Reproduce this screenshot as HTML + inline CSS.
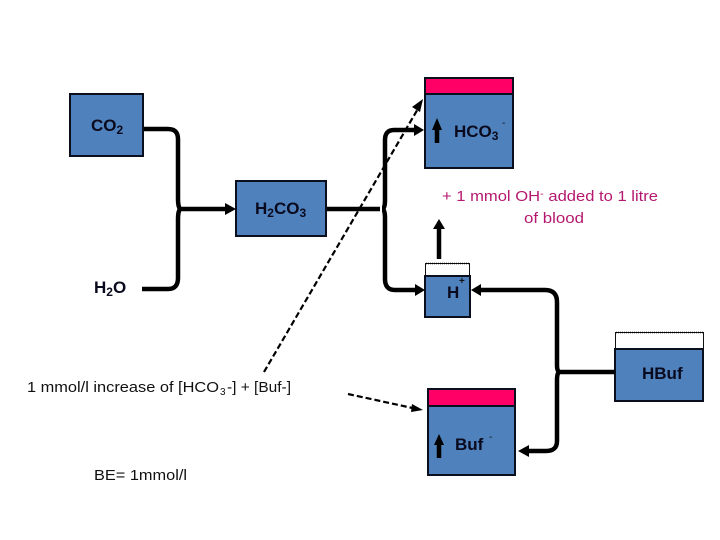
<!DOCTYPE html>
<html>
<head>
<meta charset="utf-8">
<style>
html,body{margin:0;padding:0;background:#fff}
svg{display:block}
.b{font-family:"Liberation Sans",sans-serif;font-weight:bold;font-size:17px;fill:#0a0a1e}
.c{font-family:"Liberation Sans",sans-serif;font-size:15px;fill:#111}
.m{font-family:"Liberation Sans",sans-serif;font-size:15px;fill:#b5186e}
.s{font-size:12px}
</style>
</head>
<body>
<svg width="720" height="540" viewBox="0 0 720 540" xmlns="http://www.w3.org/2000/svg">
<rect width="720" height="540" fill="#fff"/>
<g fill="#4f81bd" stroke="#0a0f1e" stroke-width="2">
<rect x="70" y="94" width="73" height="62"/>
<rect x="236" y="181" width="90" height="55"/>
<rect x="425" y="94" width="88" height="74"/>
<rect x="425" y="276" width="45" height="41"/>
<rect x="615" y="349" width="88" height="52"/>
<rect x="428" y="406" width="87" height="69"/>
</g>
<g fill="#ff0066" stroke="#0a0f1e" stroke-width="2">
<rect x="425" y="78" width="88" height="16"/>
<rect x="428" y="389" width="87" height="17"/>
</g>
<g fill="none" stroke="#111" stroke-width="1">
<path d="M425.500 276V263.500H469.500V276"/>
<path d="M615.500 349V332.500H703.500V349"/>
</g>
<g fill="none" stroke="#000" stroke-width="1.500" stroke-dasharray="1 1">
<path d="M426 263.500H470"/><path d="M616 332.500H703"/>
</g>
<g fill="none" stroke="#000" stroke-width="4.500">
<path d="M144 129H168Q178 129 178 139V198Q178 209 181 209Q178 209 178 220V278Q178 289 168 289H142"/>
<path d="M181 209H226"/>
<path d="M327 209H380"/>
<path d="M415 130H394Q385 130 385 140V200Q385 209 382 209Q385 209 385 218V279Q385 290 395 290H416"/>
<path d="M479 290H545Q557 290 557 302V365Q557 372 560 372Q557 372 557 380V441Q557 451 546 451H525"/>
<path d="M560 372H615"/>
<path d="M437 143V126"/>
<path d="M439 259V228"/>
<path d="M439 458V442"/>
</g>
<g fill="#000">
<path d="M236 209L225 203V215Z"/>
<path d="M424 130L414 124V136Z"/>
<path d="M425 290L415 284V296Z"/>
<path d="M471 290L481 284V296Z"/>
<path d="M518 451L529 445V457Z"/>
<path d="M437 118L432 130H442Z"/>
<path d="M439 219L433 229H445Z"/>
<path d="M439 434L434 445H444Z"/>
</g>
<g fill="none" stroke="#000" stroke-width="2.200" stroke-dasharray="6 3">
<path d="M264 372L419 107"/>
<path d="M348 394L417 409"/>
</g>
<g fill="#000">
<path d="M423 99L412 107L420 112Z"/>
<path d="M423 410L412 404L411 412Z"/>
</g>
<text class="b" x="91" y="131">CO<tspan class="s" dy="3">2</tspan></text>
<text class="b" x="255" y="214">H<tspan class="s" dy="3">2</tspan><tspan dy="-3">CO</tspan><tspan class="s" dy="3">3</tspan></text>
<text class="b" x="94" y="293">H<tspan class="s" dy="3">2</tspan><tspan dy="-3">O</tspan></text>
<text class="b" x="454" y="137">HCO<tspan class="s" dy="3">3</tspan></text>
<text x="502" y="126" font-family="Liberation Sans" font-size="10" fill="#111">-</text>
<text class="b" x="447" y="298">H</text>
<text x="459" y="284" font-family="Liberation Sans" font-size="10" font-weight="bold" fill="#111">+</text>
<text class="b" x="642" y="379">HBuf</text>
<text class="b" x="455" y="450">Buf</text>
<text x="489" y="440" font-family="Liberation Sans" font-size="10" fill="#111">-</text>
<text class="m" x="442" y="201" textLength="216" lengthAdjust="spacingAndGlyphs">+ 1 mmol OH<tspan font-size="10" dy="-4">-</tspan><tspan dy="4"> added to 1 litre</tspan></text>
<text class="m" x="524" y="223" textLength="60" lengthAdjust="spacingAndGlyphs">of blood</text>
<text class="c" x="27" y="392" textLength="192" lengthAdjust="spacingAndGlyphs">1 mmol/l increase of [HCO</text>
<text class="c" x="220" y="395" font-size="10" style="font-size:10px">3</text>
<text class="c" x="227" y="392" textLength="64" lengthAdjust="spacingAndGlyphs">-] + [Buf-]</text>
<text class="c" x="94" y="480" textLength="93" lengthAdjust="spacingAndGlyphs">BE= 1mmol/l</text>
</svg>
</body>
</html>
